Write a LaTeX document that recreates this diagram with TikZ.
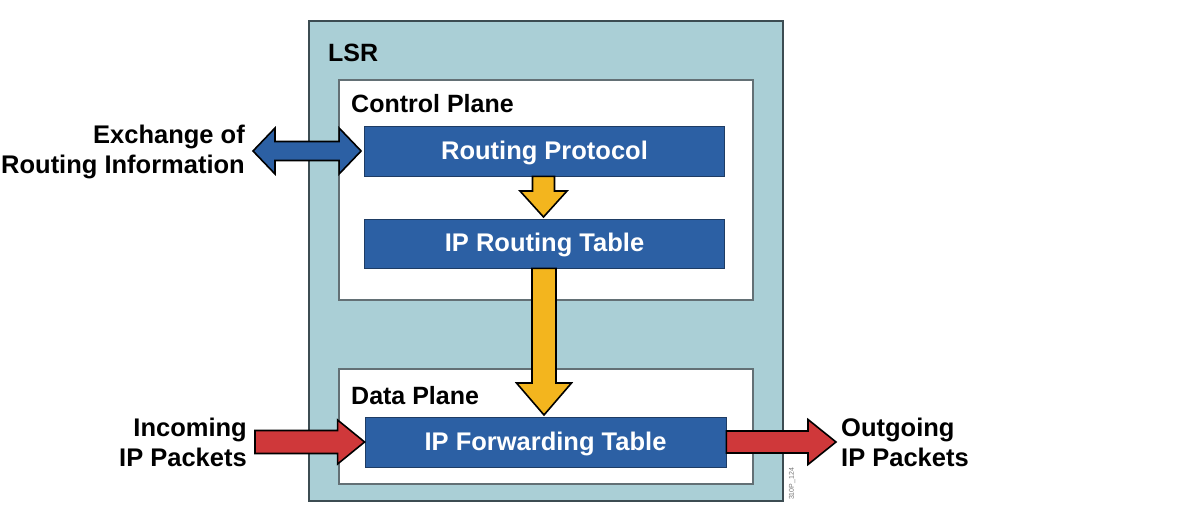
\documentclass[tikz,border=0pt]{standalone}
\usepackage{fontspec}
\setmainfont{Liberation Sans}
\usetikzlibrary{calc}

\definecolor{lsrfill}{RGB}{170,207,214}
\definecolor{lsrline}{RGB}{60,76,82}
\definecolor{boxblue}{RGB}{44,96,164}
\definecolor{boxline}{RGB}{30,60,100}
\definecolor{arrowyellow}{RGB}{243,181,30}
\definecolor{arrowred}{RGB}{207,56,58}

\tikzset{
    plane/.style={draw=lsrline!80, line width=1.2pt, fill=white, inner sep=0pt},
    tablebox/.style={draw=boxline, line width=0.8pt, fill=boxblue, text=white, inner sep=0pt,
        text depth=2pt, font=\fontsize{25.5}{30}\selectfont\bfseries},
    sidelabel/.style={inner sep=0pt, font=\fontsize{25.5}{30}\selectfont\bfseries},
    title/.style={anchor=base west, inner sep=0pt, font=\fontsize{25}{30}\selectfont\bfseries},
    fat/.style={draw=black, line width=1.6pt, line join=miter},
}

% from, to, shaft half width, head half width, head length, colour
\newcommand{\fatarrow}[6]{%
    \path (#2) coordinate (fat) ($(#2)!#5!(#1)$) coordinate (fab);
    \filldraw[fat, fill=#6] ($(#1)!#3!90:(fat)$) -- ($(fab)!#3!90:(fat)$) -- ($(fab)!#4!90:(fat)$)
        -- (fat) -- ($(fab)!#4!-90:(fat)$) -- ($(fab)!#3!-90:(fat)$) -- ($(#1)!#3!-90:(fat)$) -- cycle;
}

\begin{document}
\begin{tikzpicture}[x=1pt,y=-1pt]
    \useasboundingbox (0,0) rectangle (1202,513);

    % boxes
    \node[draw=lsrline, line width=1.4pt, fill=lsrfill, minimum width=474pt, minimum height=480pt] (lsr) at (546,261) {};
    \node[plane, minimum width=414pt, minimum height=220pt] (cp) at (546,190) {};
    \node[plane, minimum width=414pt, minimum height=115pt] (dp) at (546,426.5) {};

    \node[title] (lsrtitle) at (328,62) {LSR};
    \node[title] (cptitle) at (351,113) {Control Plane};
    \node[title] (dptitle) at (351,404) {Data Plane};

    \node[tablebox, minimum width=360pt, minimum height=50pt] (rp) at (544.5,151) {Routing Protocol};
    \node[tablebox, minimum width=360pt, minimum height=49pt] (irt) at (544.5,243.5) {IP Routing Table};
    \node[tablebox, minimum width=361pt, minimum height=50pt] (ift) at (545.5,442) {IP Forwarding Table};

    % outside labels
    \node[sidelabel, align=right, anchor=east] (exch) at (245,152) {Exchange of\\Routing Information};
    \node[sidelabel, align=right, anchor=east] (inc) at (247,442) {Incoming\\IP Packets};
    \node[sidelabel, align=left, anchor=west] (out) at (841,442) {Outgoing\\IP Packets};

    \coordinate (exchtip) at (rp.west -| 253,0);
    \coordinate (incstart) at (ift.west -| 255,0);
    \coordinate (outtip) at (ift.east -| 836,0);

    % arrows
    \fatarrow{rp.south -| 543.5,0}{543.5,217}{11pt}{23.5pt}{26pt}{arrowyellow}
    \fatarrow{irt.south -| 544,0}{544,415}{12pt}{27.5pt}{32pt}{arrowyellow}
    \fatarrow{incstart}{ift.west}{11.5pt}{22pt}{27pt}{arrowred}
    \fatarrow{ift.east}{outtip}{11pt}{22.5pt}{28pt}{arrowred}

    \filldraw[fat, fill=boxblue] (exchtip) -- ++(22,-23) -- ++(0,13.5) -- ($(rp.west)+(-25,-9.5)$)
        -- ++(0,-13.5) -- ($(rp.west)+(-3,0)$) -- ++(-22,23) -- ++(0,-13.5)
        -- ($(exchtip)+(22,9.5)$) -- ++(0,13.5) -- cycle;

    \node[rotate=90, text=black!55, font=\fontsize{7}{8}\selectfont] (tag) at (792,484) {310P\_124};
\end{tikzpicture}
\end{document}
